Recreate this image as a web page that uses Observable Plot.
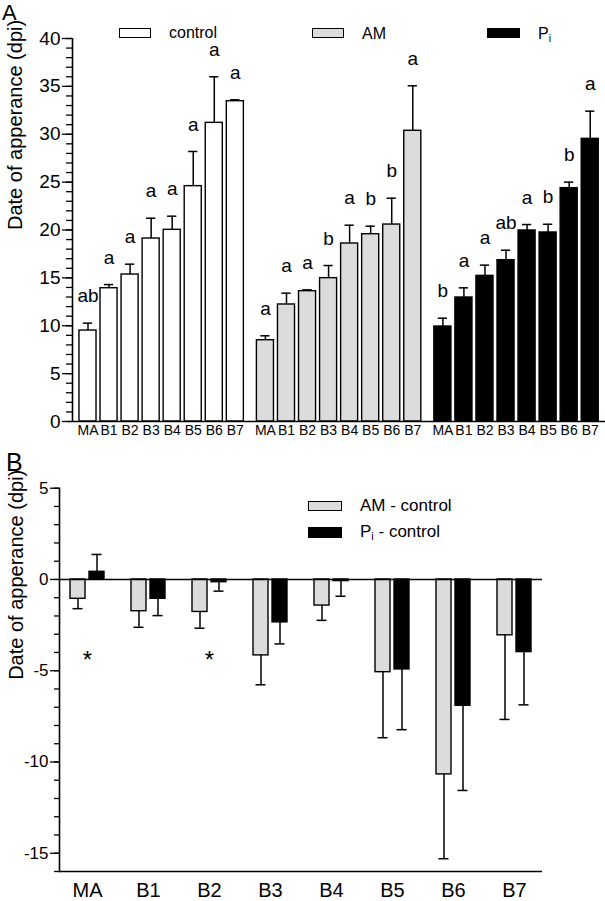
<!DOCTYPE html>
<html>
<head>
<meta charset="utf-8">
<script src="https://cdn.jsdelivr.net/npm/d3@7"></script>
<script src="https://cdn.jsdelivr.net/npm/@observablehq/plot@0.6"></script>
<style>
  body { margin: 0; background: #fff; }
  #wrap { position: relative; width: 605px; height: 901px; background: #fff;
          font-family: "Liberation Sans", Arial, sans-serif; color: #000; overflow: hidden; }
  .abs { position: absolute; line-height: 1; white-space: nowrap; }
  .sw { position: absolute; box-sizing: border-box; border: 1.5px solid #000; }
  sub { font-size: 0.65em; vertical-align: -0.3em; line-height: 0; }
</style>
</head>
<body>
<div id="wrap">
  <div id="panelA" class="abs" style="left:0;top:0"></div>
  <div id="panelB" class="abs" style="left:0;top:450px"></div>

  <div class="abs" style="left:2px;top:2px;font-size:22px">A</div>
  <div class="abs" style="left:6px;top:450px;font-size:25px">B</div>

  <!-- legend A -->
  <div class="sw" style="left:119px;top:28px;width:32px;height:10px;background:#fff"></div>
  <div class="abs" style="left:169px;top:25px;font-size:16px">control</div>
  <div class="sw" style="left:312px;top:28px;width:32px;height:10px;background:#dcdcdc"></div>
  <div class="abs" style="left:362px;top:25.5px;font-size:16px">AM</div>
  <div class="sw" style="left:487px;top:28px;width:33px;height:10px;background:#000"></div>
  <div class="abs" style="left:538px;top:25.5px;font-size:16px">P<sub>i</sub></div>

  <!-- legend B -->
  <div class="sw" style="left:308px;top:500.5px;width:34px;height:10px;background:#dcdcdc"></div>
  <div class="abs" style="left:360px;top:497px;font-size:17px">AM - control</div>
  <div class="sw" style="left:308px;top:527px;width:34px;height:11px;background:#000"></div>
  <div class="abs" style="left:360px;top:523px;font-size:17px">P<sub>i</sub> - control</div>
</div>

<script>
// ---------- data ----------
const categories = ["MA", "B1", "B2", "B3", "B4", "B5", "B6", "B7"];
const treatments = ["control", "AM", "Pi"];

const controlMean = [9.5, 13.92, 15.35, 19.11, 20.02, 24.58, 31.19, 33.45];
const controlSE   = [0.77, 0.38, 1.08, 2.12, 1.42, 3.62, 4.81, 0.15];
const controlLetters = ["ab", "a", "a", "a", "a", "a", "a", "a"];

const amMean = [8.49, 12.22, 13.61, 14.97, 18.59, 19.56, 20.57, 30.36];
const amSE   = [0.46, 1.18, 0.14, 1.32, 1.91, 0.84, 2.75, 4.70];
const amLetters = ["a", "a", "a", "b", "a", "b", "b", "a"];

const piMean = [9.92, 12.95, 15.21, 16.85, 19.95, 19.74, 24.37, 29.52];
const piSE   = [0.87, 1.01, 1.12, 1.04, 0.62, 0.86, 0.63, 2.89];
const piLetters = ["b", "a", "a", "ab", "a", "b", "b", "a"];

const amDiffMean = [-1.06, -1.74, -1.78, -4.16, -1.43, -5.08, -10.68, -3.06];
const amDiffSE   = [0.54, 0.88, 0.89, 1.61, 0.81, 3.59, 4.62, 4.61];
const piDiffMean = [0.42, -1.06, -0.15, -2.35, -0.09, -4.93, -6.92, -3.98];
const piDiffSE   = [0.95, 0.92, 0.49, 1.18, 0.83, 3.30, 4.64, 2.89];

const significant = ["MA", "B2"];
const yLabel = "Date of apperance (dpi)";

// ---------- panel A ----------
const GROUP_STRIDE = 8.43;   // layout: slot distance between treatment groups
const HALF_BAR = 0.405;
const HALF_CAP = 0.22;
const seriesA = {
  control: [controlMean, controlSE, controlLetters],
  AM: [amMean, amSE, amLetters],
  Pi: [piMean, piSE, piLetters]
};
const rowsA = treatments.flatMap((t, gi) => categories.map((c, i) => ({
  group: t, cat: c, pos: gi * GROUP_STRIDE + i,
  mean: seriesA[t][0][i], top: seriesA[t][0][i] + seriesA[t][1][i], letter: seriesA[t][2][i]
})));
const labelByPos = new Map(rowsA.map(d => [d.pos, d.cat]));
const xDomA = [-0.736, 24.586];
const font = "Liberation Sans, Arial, sans-serif";

const plotA = Plot.plot({
  width: 605, height: 450,
  marginLeft: 72, marginRight: 0, marginTop: 38, marginBottom: 29,
  style: {fontFamily: font, color: "black", background: "transparent", overflow: "visible"},
  x: {type: "linear", domain: xDomA},
  y: {domain: [0, 40]},
  color: {domain: treatments, range: ["#ffffff", "#dcdcdc", "#000000"]},
  marks: [
    Plot.rect(rowsA, {x1: d => d.pos - HALF_BAR, x2: d => d.pos + HALF_BAR, y1: 0, y2: "mean",
      fill: "group", stroke: "black", strokeWidth: 1.4}),
    Plot.ruleX(rowsA, {x: "pos", y1: "mean", y2: "top", strokeWidth: 1.5}),
    Plot.ruleY(rowsA, {y: "top", x1: d => d.pos - HALF_CAP, x2: d => d.pos + HALF_CAP, strokeWidth: 1.5}),
    Plot.text(rowsA, {x: "pos", y: "top", text: "letter", dy: -27, fontSize: 19}),
    Plot.ruleY([0], {strokeWidth: 1.6}),
    Plot.ruleX([xDomA[0]], {strokeWidth: 1.6}),
    Plot.axisY({ticks: d3.range(0, 41, 1), tickSize: 6, fill: "none", label: null, strokeWidth: 1.3}),
    Plot.axisY({ticks: d3.range(0, 41, 5), tickSize: 10, tickPadding: 2, fontSize: 19,
      tickFormat: d => String(d), label: null, strokeWidth: 1.3}),
    Plot.axisX({ticks: rowsA.map(d => d.pos), tickFormat: p => labelByPos.get(p),
      tickSize: 0, tickPadding: 4, fontSize: 14, label: null}),
    Plot.text([yLabel], {frameAnchor: "left", rotate: -90, dx: -57, fontSize: 20})
  ]
});
document.getElementById("panelA").appendChild(plotA);

// ---------- panel B ----------
const rowsAM = categories.map((c, i) => ({cat: c, mean: amDiffMean[i], end: amDiffMean[i] + Math.sign(amDiffMean[i] || -1) * amDiffSE[i]}));
const rowsPi = categories.map((c, i) => ({cat: c, mean: piDiffMean[i], end: piDiffMean[i] + Math.sign(piDiffMean[i] || -1) * piDiffSE[i]}));
const BAND = 34, BAR = 15, CAP = 10;
const inner = BAND - BAR;
const off = BAND / 2 - BAR / 2;
const capIn = BAR / 2 - CAP / 2;
const SIG_Y = -4.45;

const plotB = Plot.plot({
  width: 605, height: 451,
  marginLeft: 59, marginRight: 63, marginTop: 37.7, marginBottom: 30,
  style: {fontFamily: font, color: "black", background: "transparent", overflow: "visible"},
  x: {domain: categories, paddingInner: 0.44, paddingOuter: 0.17},
  y: {domain: [-16, 5]},
  marks: [
    Plot.barY(rowsAM, {x: "cat", y1: 0, y2: "mean", fill: "#dcdcdc", stroke: "black", strokeWidth: 1.4, insetRight: inner}),
    Plot.barY(rowsPi, {x: "cat", y1: 0, y2: "mean", fill: "black", stroke: "black", strokeWidth: 1.4, insetLeft: inner}),
    Plot.ruleX(rowsAM, {x: "cat", y1: "mean", y2: "end", dx: -off, strokeWidth: 1.5}),
    Plot.ruleX(rowsPi, {x: "cat", y1: "mean", y2: "end", dx: off, strokeWidth: 1.5}),
    Plot.tickY(rowsAM, {x: "cat", y: "end", insetLeft: capIn, insetRight: inner + capIn, strokeWidth: 1.5}),
    Plot.tickY(rowsPi, {x: "cat", y: "end", insetLeft: inner + capIn, insetRight: capIn, strokeWidth: 1.5}),
    Plot.text(significant, {x: d => d, y: SIG_Y, text: () => "*", fontSize: 24}),
    Plot.ruleY([0], {strokeWidth: 1.6}),
    Plot.ruleY([-16], {strokeWidth: 1.6}),
    Plot.frame({anchor: "left", strokeWidth: 1.6}),
    Plot.axisY({ticks: d3.range(-16, 6, 1), tickSize: 5, fill: "none", label: null, strokeWidth: 1.3}),
    Plot.axisY({ticks: [5, 0, -5, -10, -15], tickSize: 9, tickPadding: 2, fontSize: 17,
      tickFormat: d => String(d), label: null, strokeWidth: 1.3}),
    Plot.axisX({tickSize: 0, tickPadding: 11, fontSize: 20, label: null}),
    Plot.text([yLabel], {frameAnchor: "left", rotate: -90, dx: -43, fontSize: 20})
  ]
});
document.getElementById("panelB").appendChild(plotB);
</script>
</body>
</html>
